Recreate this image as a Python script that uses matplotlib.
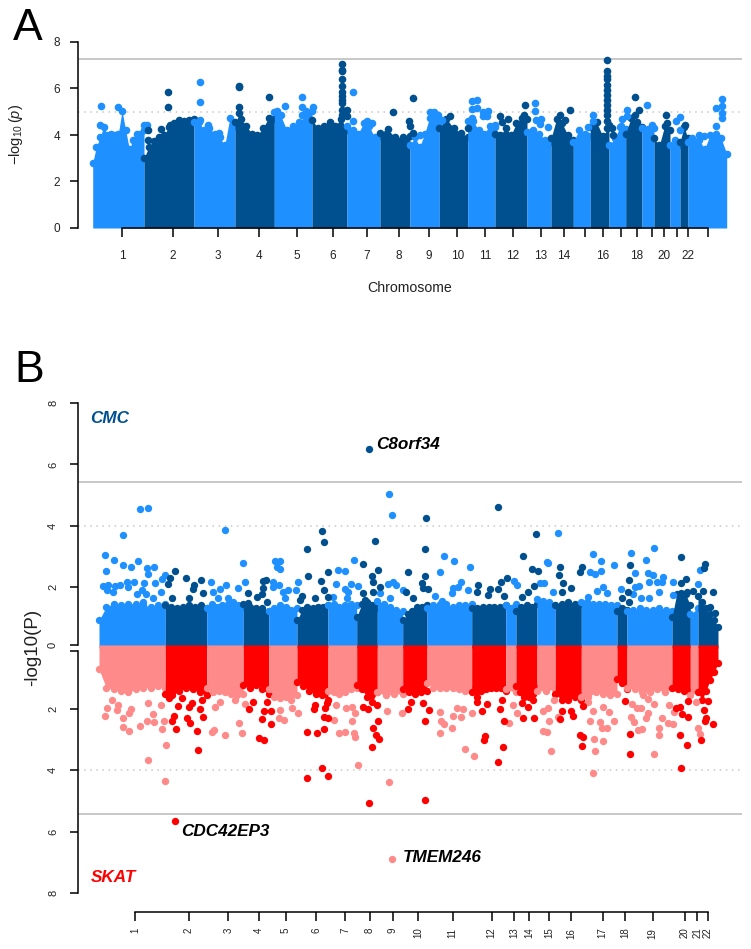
import numpy as np
import matplotlib
matplotlib.use("Agg")
import matplotlib.pyplot as plt

plt.rcParams['font.family'] = ['Liberation Sans', 'DejaVu Sans']
plt.rcParams['mathtext.fontset'] = 'custom'
plt.rcParams['mathtext.rm'] = 'Liberation Sans'
plt.rcParams['mathtext.it'] = 'Liberation Sans:italic'

LIGHT = '#1e90ff'
DARK = '#00508f'
PINK = '#ff8a8a'
RED = '#ff0000'
GREY = '#c8c8c8'

# panel A: genome position runs along the x axis
a_edges = [92.7, 144, 194, 235, 274.3, 312, 347, 380, 410, 439.3, 467.7, 495, 527,
           551, 573.3, 590.3, 609, 625.7, 642, 654, 670, 680, 688, 726.7]
a_ticks = [122, 172.7, 218, 258.5, 296.5, 333, 367, 399, 428.7, 457.3, 485, 513, 540.7,
           563.7, 585, 603, 621, 637, 651.5, 664, 676.5, 687.5, 707.5]
a_tick_labels = ['1', '2', '3', '4', '5', '6', '7', '8', '9', '10', '11', '12', '13',
                 '14', '', '16', '', '18', '', '20', '', '22', '']
a_tops = [
    [2.8, 3.5, 3.9, 4.35, 4.0, 4.05, 4.0, 4.05, 5.05, 4.2, 3.4, 3.8, 4.05, 4.05, 4.2],
    [3.0, 3.5, 3.75, 3.9, 4.0, 4.35, 4.5, 4.65, 4.6, 4.65, 4.7],
    [4.55, 4.55, 4.2, 4.3, 4.05, 3.9, 3.55, 4.75, 4.4],
    [4.55, 4.7, 4.4, 4.05, 4.0, 4.3, 4.75, 4.7],
    [5.0, 4.85, 4.2, 4.4, 4.55, 4.85, 5.05],
    [4.65, 4.3, 4.4, 4.55, 4.4, 4.7, 4.2],
    [4.4, 4.2, 4.05, 4.5, 4.4, 3.9, 3.95],
    [4.1, 4.25, 3.9, 3.9, 3.95],
    [3.55, 3.9, 3.5, 4.05, 4.75, 4.75, 4.55],
    [4.3, 4.7, 4.3, 4.1, 3.9],
    [4.6, 4.6, 4.2, 4.05, 4.4, 4.35],
    [4.05, 4.0, 4.3, 4.0, 4.5, 4.75, 4.7],
    [4.15, 4.2, 4.05, 3.8, 3.7],
    [3.85, 4.7, 4.5, 4.0, 3.8],
    [3.7, 4.2, 4.05, 3.95],
    [4.35, 4.55, 3.95, 4.35],
    [3.55, 3.85, 4.35, 4.25],
    [4.05, 4.75, 4.55, 4.35],
    [4.3, 4.25, 4.3],
    [3.85, 3.55, 4.4, 4.2],
    [3.55, 3.8, 3.55],
    [3.7, 4.35, 3.85],
    [3.7, 3.65, 3.8, 3.4, 4.0, 4.05, 3.85, 3.2],
]
a_light_x = [101, 117.7, 100, 144, 146.7, 200.3, 200.3, 208.3, 219, 200, 285, 302.3, 301.7,
             301.7, 312.7, 277, 306, 352.7, 353.3, 366.7, 371.7, 430.3, 434.3, 438.3, 441.7,
             420, 471.7, 476.7, 471.7, 476.7, 483.3, 488.3, 483.3, 487.3, 472.3, 495, 535.3,
             535.3, 536, 540.7, 540, 547.7, 593.3, 588.3, 592.7, 627.3, 621.7, 626.7, 620.7,
             646.7, 652.3, 676, 680.3, 680, 722, 722, 716, 722, 722, 715.7, 691.7, 699.3, 704]
a_light_y = [5.25, 5.2, 4.45, 4.43, 4.43, 6.27, 5.43, 4.45, 4.1, 4.65, 5.23, 5.65, 5.2,
             4.87, 5.19, 5.05, 5.05, 5.83, 4.6, 4.6, 4.5, 4.97, 5.0, 4.85, 4.65,
             4.0, 5.47, 5.5, 5.13, 5.16, 5.0, 5.03, 4.8, 4.8, 4.73, 4.45, 5.38,
             5.03, 4.65, 4.7, 4.49, 4.34, 4.87, 4.33, 4.59, 5.06, 4.69, 4.8, 4.4,
             5.3, 4.41, 4.6, 4.77, 4.23, 5.55, 5.26, 5.16, 4.95, 4.73, 4.37, 3.85, 4.0, 3.95]
a_dark_x = [168, 168, 161.3, 148.3, 148.3, 170, 239.3, 239.3, 239.3, 239.3, 269.3,
            342.3, 342.3, 342.3, 342.3, 342.3, 342.3, 342.3, 342.3, 342.3, 342.3, 342.3, 346.7, 346.7,
            392.7, 412.7, 409, 410, 412.7, 450, 468.3, 499.7, 501.7, 507.7, 525.3, 524, 570, 560, 565,
            607.3, 607.3, 607.3, 607.3, 607.3, 607.3, 607.3, 607.3, 607.3, 607.3, 607.3, 607.3, 607.3,
            609.3, 611.7, 613.3, 634.7, 638.7, 635, 666.3, 666.7, 685]
a_dark_y = [5.86, 5.19, 4.27, 4.23, 3.8, 4.45, 6.1, 6.05, 5.19, 4.95, 5.65,
            7.04, 6.8, 6.75, 6.4, 6.1, 5.83, 5.66, 5.5, 5.37, 5.09, 4.87, 5.09, 4.8,
            4.97, 5.6, 4.6, 4.37, 4.1, 4.83, 4.3, 4.8, 4.55, 4.7, 5.29, 4.87, 5.06, 4.87, 4.66,
            7.24, 6.74, 6.55, 6.4, 6.15, 5.95, 5.73, 5.52, 5.3, 5.09, 4.87, 4.6, 4.3,
            4.45, 4.3, 4.0, 5.65, 5.07, 4.87, 4.87, 4.5, 4.41]

# panel B: same style, CMC on top and SKAT mirrored underneath
b_edges = [99, 165.3, 206.7, 243.3, 268.7, 297, 328, 356.7, 377.3, 402.7, 427, 471.7,
           505.7, 516, 537, 555.3, 581.3, 617, 627, 672, 690.3, 698, 718]
b_ticks = [135, 189, 228.3, 259.3, 286, 316, 345.3, 369.7, 393, 418, 452.7, 491.7,
           514, 529.3, 549, 571.3, 602.7, 625.3, 652.7, 684.7, 697.3, 707.7]
b_tick_labels = ['1', '2', '3', '4', '5', '6', '7', '8', '9', '10', '11', '12',
                 '13', '14', '15', '16', '17', '18', '19', '20', '21', '22']
b_cmc_tops = [
    [0.9, 1.35, 1.45, 1.4, 1.45, 1.45, 1.4, 1.35, 1.4, 1.45],
    [1.4, 1.35, 1.3, 1.35, 1.4, 1.35, 1.4, 1.3],
    [1.3, 1.45, 1.35, 1.4, 1.45, 1.5, 1.4, 1.35],
    [1.45, 1.35, 1.3, 1.3, 1.2],
    [1.2, 1.3, 1.4, 1.35, 1.25, 1.3],
    [0.9, 1.25, 1.35, 1.3, 1.35, 1.35, 1.4],
    [1.4, 1.45, 1.35, 1.4, 1.45, 1.4],
    [1.0, 1.45, 1.5, 1.4, 1.3],
    [1.55, 1.45, 1.35, 1.25, 1.2],
    [0.9, 1.1, 1.2, 1.35, 1.35, 1.4],
    [1.3, 1.4, 1.45, 1.45, 1.35, 1.4, 1.4, 1.45],
    [1.3, 1.3, 1.35, 1.35, 1.35, 1.35, 1.4],
    [1.4, 1.45],
    [1.2, 1.35, 1.4, 1.35, 1.45],
    [1.6, 1.55, 1.5, 1.4],
    [1.4, 1.45, 1.5, 1.45, 1.45],
    [1.5, 1.5, 1.45, 1.45, 1.45, 1.4, 1.4],
    [1.2, 1.3, 1.25],
    [1.2, 1.25, 1.3, 1.25, 1.25, 1.3, 1.25, 1.2],
    [1.0, 1.75, 1.8, 1.75, 1.4],
    [1.1, 1.3],
    [1.7, 1.5, 1.3, 1.1, 0.9, 0.7],
]
b_skat_tops = [
    [0.7, 1.3, 1.35, 1.4, 1.45, 1.35, 1.3, 1.3, 1.25, 1.3],
    [1.5, 1.55, 1.4, 1.3, 1.35, 1.45, 1.55],
    [1.3, 1.45, 1.4, 1.45, 1.5, 1.55, 1.5],
    [1.2, 1.3, 1.2, 1.35, 1.5],
    [1.35, 1.6, 1.65, 1.6, 1.7, 1.55],
    [1.1, 1.25, 1.4, 1.5, 1.55, 1.7],
    [1.4, 1.45, 1.5, 1.45, 1.35, 1.3],
    [1.2, 1.35, 1.6, 1.75, 1.45],
    [1.45, 1.55, 1.5, 1.5],
    [1.35, 1.45, 1.5, 1.45, 1.4],
    [1.15, 1.3, 1.3, 1.3, 1.3, 1.35, 1.4, 1.35],
    [1.45, 1.6, 1.4, 1.35, 1.3, 1.3, 1.3, 1.4],
    [1.35, 1.45],
    [1.25, 1.45, 1.6, 1.6, 1.5, 1.3],
    [1.4, 1.4, 1.35],
    [1.5, 1.7, 1.7, 1.6, 1.7],
    [1.6, 1.6, 1.45, 1.5, 1.55, 1.5],
    [1.0, 1.15, 1.35],
    [1.3, 1.35, 1.45, 1.45, 1.35, 1.45, 1.3],
    [1.3, 1.35, 1.4, 1.45],
    [1.55, 1.4],
    [1.45, 1.7, 1.4, 1.05, 0.8, 0.5],
]
b_cmc_light_x = [104.7, 105.7, 114.3, 123.3, 123, 131, 137.7, 140, 148, 146.7, 154, 148.3, 144.3, 155.3,
                 162.3, 165.3, 102.7, 108.3, 115, 120, 126.7, 134, 107.3, 112.7, 128.3, 137.3, 141.7,
                 146, 152.7, 161.3, 143.3, 210.7, 225.3, 225.7, 220, 213.3, 243.3, 245.3, 237.7, 218.3,
                 228.3, 220.7, 275, 280, 276.7, 280, 272.7, 279, 273.3, 297.7, 288.3, 282.7, 295.7, 285,
                 338, 345, 354, 335.7, 351, 358.3, 345, 348.3, 333.3, 346.7, 389, 392.3, 392.7, 388.3,
                 396, 403.3, 390, 380, 443.7, 453.7, 470, 440, 460.7, 453.3, 468.3, 435, 442, 458.3,
                 451.7, 514, 516.7, 558.3, 546.7, 548.3, 540, 544.3, 552.7, 593, 601, 614.3, 590, 595,
                 601.3, 602.7, 596.7, 606.7, 588.3, 630.7, 646, 653.7, 634.7, 648.3, 653.3, 663.3, 649.3,
                 656.7, 661.7, 620.7, 639.3, 635, 658.7, 633.3, 673.3, 672.7, 640.7, 649.3, 697.7, 700]
b_cmc_light_y = [3.04, 2.51, 2.88, 3.7, 2.72, 2.65, 2.86, 4.55, 4.58, 2.6, 2.65, 2.42, 2.14, 2.14,
                 2.27, 2.39, 2.02, 2.06, 2.04, 2.06, 2.17, 2.15, 1.9, 1.83, 2.0, 1.77, 1.88,
                 1.77, 1.62, 1.83, 1.49, 2.17, 3.86, 2.07, 1.92, 1.84, 2.77, 2.17, 1.95, 1.62,
                 1.62, 1.35, 2.85, 2.85, 2.66, 2.58, 2.17, 2.06, 1.98, 2.17, 1.9, 1.82, 1.9, 1.62,
                 2.56, 2.53, 2.87, 2.08, 2.09, 2.03, 1.93, 1.84, 1.68, 1.62, 5.03, 4.34, 2.17, 2.08,
                 2.06, 1.89, 1.62, 1.79, 3.0, 2.85, 2.64, 2.48, 2.16, 1.95, 1.9, 1.7, 1.55, 2.0,
                 1.79, 2.19, 2.06, 3.75, 2.82, 2.79, 2.12, 2.12, 1.84, 3.06, 2.86, 2.7, 2.49, 2.43,
                 2.51, 2.0, 1.85, 1.79, 1.68, 3.12, 2.89, 3.27, 2.44, 2.44, 2.4, 2.33, 2.17,
                 2.16, 2.16, 1.93, 2.04, 1.98, 1.83, 1.76, 2.17, 1.72, 1.62, 1.62, 2.1, 2.56]
b_cmc_dark_x = [175, 170, 168.3, 186.3, 194, 193.3, 201, 202.7, 172.3, 189.3, 248.3, 263.3, 265.7, 263.3,
                261.7, 256.7, 248.3, 266.7, 306.7, 322, 324, 307.7, 328, 321, 324.3, 301.7, 300, 315,
                328.3, 369.3, 363, 375.3, 371.7, 378, 372.7, 380, 372.7, 362.7, 365, 425.7, 425, 408.3,
                424.7, 421.7, 423.3, 428.3, 406, 413.3, 498.3, 477.7, 477.3, 507, 500.7, 490, 498.3,
                504.3, 488.3, 536.3, 523.3, 532, 538.3, 534, 528.3, 521.7, 560.3, 559.3, 562.7, 571,
                562.3, 580, 582.3, 629.7, 628.7, 628.3, 621.7, 629.3, 681.3, 685.7, 681, 692.7, 686.7,
                705, 704.3, 703.3, 713.3, 710, 715]
b_cmc_dark_y = [2.52, 2.29, 2.09, 2.28, 2.06, 1.93, 2.21, 1.8, 1.62, 1.62, 1.81, 2.19, 2.21, 1.95,
                1.76, 1.68, 1.46, 1.52, 3.25, 3.81, 3.48, 2.37, 2.5, 2.19, 1.88, 1.71, 1.57, 1.62,
                1.68, 6.51, 2.73, 3.49, 2.37, 2.55, 2.16, 2.0, 1.84, 1.79, 1.57, 4.24, 3.24, 2.48,
                2.37, 2.12, 1.95, 1.92, 1.84, 1.62, 4.62, 2.05, 1.82, 2.28, 2.16, 1.92, 1.92,
                1.71, 1.73, 3.72, 3.0, 2.58, 2.52, 2.04, 1.82, 1.68, 2.64, 2.38, 2.13, 1.97,
                1.82, 2.5, 2.64, 2.7, 2.22, 1.84, 1.62, 1.52, 2.96, 2.24, 2.14, 1.85, 1.84,
                2.73, 2.63, 1.86, 1.82, 1.35, 1.13]
b_skat_light_x = [104.7, 107.3, 117.3, 131.3, 123.3, 129, 123.3, 129.3, 140, 146.7, 154, 152.7, 163.7, 162.3,
                  165.7, 147.7, 165.3, 161.3, 148.3, 118.3, 111.7, 212, 214, 225.3, 239, 242.3, 215, 220,
                  235, 245, 279.3, 283.7, 298.3, 291.7, 280, 358.3, 339, 345.3, 354, 355, 334.3, 351.7,
                  355, 345.7, 335.7, 351.7, 389, 387, 402, 392.3, 440, 452, 441, 444, 440, 453.3, 460.7,
                  457.3, 463.3, 472, 465.3, 474, 508.7, 517, 512.7, 543, 547.3, 551, 548.7, 543.3, 548.3,
                  554.3, 558.3, 593, 595, 593.7, 603.3, 590, 592.7, 600, 602.3, 607.3, 614.3, 603.3, 608.7,
                  588.3, 653.7, 659, 659, 641.7, 637.7, 634, 630.7, 646, 648.3, 636.7, 640.7, 631.7, 654,
                  661.7, 667.7, 673.3, 669.3, 674, 643.3, 647.7, 698, 699.7, 695.7]
b_skat_light_y = [2.22, 1.97, 2.03, 2.0, 2.29, 2.14, 2.57, 2.7, 2.54, 2.38, 2.41, 2.17, 2.38, 2.66,
                  3.17, 3.66, 4.34, 1.85, 1.8, 1.86, 1.7, 2.76, 2.68, 2.86, 2.45, 2.79, 1.92, 1.75,
                  1.7, 1.83, 2.29, 2.36, 2.12, 1.97, 2.03, 3.82, 2.77, 2.73, 2.79, 2.9, 2.34, 2.39,
                  2.14, 1.97, 1.86, 1.92, 4.38, 2.06, 2.12, 6.9, 2.77, 2.6, 2.38, 2.48, 2.08, 2.22, 2.27,
                  1.95, 1.98, 2.12, 3.31, 3.54, 2.44, 2.12, 1.86, 2.72, 2.74, 3.38, 2.38, 2.07, 1.97,
                  1.71, 2.27, 4.1, 3.37, 2.99, 3.04, 2.38, 2.07, 2.41, 2.63, 2.61, 2.38, 1.94, 2.08,
                  1.76, 3.48, 2.85, 2.62, 2.64, 2.68, 2.43, 2.25, 2.3, 2.13, 1.97, 1.97, 1.83, 1.84,
                  2.3, 2.44, 2.5, 1.86, 2.08, 1.54, 1.67, 2.6, 2.81, 1.76]
b_skat_red_x = [175, 198.3, 197.3, 176, 171.7, 174, 186.7, 190.3, 202.7, 200.3, 189.3, 191.7, 178.3, 181.7,
                201.7, 169, 249, 252.7, 261.7, 264.3, 270.7, 270.7, 259, 264, 266.7, 306.7, 322, 328,
                307.3, 316.7, 324, 324, 328.3, 314, 315, 325, 326.7, 369.3, 371.7, 372.7, 375.7, 379,
                378.3, 367.7, 363.3, 376.7, 425.3, 425, 428.7, 408.3, 410.7, 423.3, 498.3, 503, 484.7,
                484, 482.3, 487.3, 476.7, 500.3, 504.3, 502.3, 523, 534.3, 528.3, 521.7, 533.3, 560.3,
                572.7, 561.7, 570.7, 582.3, 580, 583.3, 583.3, 629.7, 630, 624.7, 681, 680, 687.3,
                688.3, 681.7, 675.7, 680, 688.3, 701, 713.3, 705, 705.7, 703.7, 708.3]
b_skat_red_y = [5.67, 3.35, 2.7, 2.64, 2.39, 2.21, 2.28, 2.44, 2.25, 1.98, 1.92, 1.79, 1.89, 1.65,
                1.7, 1.62, 2.0, 1.78, 2.31, 2.07, 2.05, 2.47, 2.95, 3.01, 1.78, 4.25, 3.93, 4.19,
                2.74, 2.79, 2.66, 2.24, 2.28, 1.99, 1.86, 1.97, 1.79, 5.07, 3.23, 2.63, 2.85, 2.99,
                2.38, 2.01, 1.94, 1.86, 4.96, 2.38, 2.02, 2.0, 1.76, 1.81, 3.73, 3.24, 2.87,
                3.02, 2.05, 1.83, 1.76, 1.98, 2.4, 1.7, 2.3, 2.28, 1.92, 1.81, 1.7, 2.33,
                2.21, 2.05, 2.05, 3.22, 2.86, 2.92, 1.9, 3.48, 2.82, 1.72, 3.92, 2.86, 3.17,
                2.26, 2.16, 1.97, 1.94, 1.72, 3.01, 2.5, 2.38, 2.3, 2.03, 1.72]

W, H = 751, 949
X0, X1 = 77.5, 742


def px_axes(fig, top, bottom):
    return fig.add_axes([X0 / W, 1 - bottom / H, (X1 - X0) / W, (bottom - top) / H])


def dibujar_cromosomas(ax, edges, tops, colors, size, base=0):
    for i, top in enumerate(tops):
        color = colors[i % 2]
        x = np.linspace(edges[i], edges[i + 1], len(top))
        ax.fill_between(x, base, top, color=color, lw=0, clip_on=False, zorder=2)
        ax.scatter(x, top, s=size, color=color, lw=0, clip_on=False, zorder=2)


def estilo_eje(ax):
    for lado in ['top', 'right']:
        ax.spines[lado].set_visible(False)
    ax.patch.set_visible(False)
    ax.set_xlim(X0, X1)
    ax.set_ylim(0, 8)
    ax.spines['left'].set_linewidth(1.1)


fig = plt.figure(figsize=(W / 100, H / 100), dpi=100)

# panel A
ax = px_axes(fig, 42, 228)
estilo_eje(ax)
dibujar_cromosomas(ax, a_edges, a_tops, [LIGHT, DARK], 30)
ax.scatter(a_light_x, a_light_y, s=30, color=LIGHT, lw=0, zorder=3, clip_on=False)
ax.scatter(a_dark_x, a_dark_y, s=30, color=DARK, lw=0, zorder=3, clip_on=False)
ax.axhline(7.25, color=GREY, lw=1.4, zorder=1)
ax.axhline(5, color=GREY, lw=1.1, ls=(0, (1, 3)), zorder=1)
ax.spines['bottom'].set_bounds(a_ticks[0], a_ticks[-1])
ax.spines['bottom'].set_linewidth(1.1)
ax.spines['bottom'].set_zorder(4)
ax.set_xticks(a_ticks)
ax.set_xticklabels(a_tick_labels, fontsize=8.5, color='#222222')
ax.tick_params(axis='x', length=6.5, width=1.1, pad=9.5)
ax.set_yticks([0, 2, 4, 6, 8])
ax.tick_params(axis='y', length=6, width=1.1, pad=6.5, labelsize=8.5, labelcolor='#222222')

fig.text(410 / W, 1 - 288 / H, 'Chromosome', fontsize=10.2, ha='center', va='center', color='#222222')
fig.text(16 / W, 1 - 135 / H, r'$-\log_{10}(p)$', fontsize=10.5, rotation=90, ha='center', va='center', color='#222222')
fig.text(13 / W, 1 - 40 / H, 'A', fontsize=32, ha='left', va='baseline')
fig.text(14 / W, 1 - 382 / H, 'B', fontsize=32, ha='left', va='baseline')

# panel B, CMC arriba
ax_cmc = px_axes(fig, 403.3, 648)
estilo_eje(ax_cmc)
dibujar_cromosomas(ax_cmc, b_edges, b_cmc_tops, [LIGHT, DARK], 28)
ax_cmc.scatter(b_cmc_light_x, b_cmc_light_y, s=28, color=LIGHT, lw=0, zorder=3)
ax_cmc.scatter(b_cmc_dark_x, b_cmc_dark_y, s=28, color=DARK, lw=0, zorder=3)
ax_cmc.axhline(5.43, color=GREY, lw=1.4, zorder=1)
ax_cmc.axhline(4, color=GREY, lw=1.1, ls=(0, (1, 3)), zorder=1)
ax_cmc.spines['bottom'].set_visible(False)
ax_cmc.spines['left'].set_bounds(0.1, 8)
ax_cmc.set_xticks([])
ax_cmc.set_yticks([0.1, 2, 4, 6, 8])
ax_cmc.set_yticklabels(['0', '2', '4', '6', '8'], rotation=90, va='center')
ax_cmc.tick_params(axis='y', length=6, width=1.1, pad=8, labelsize=8, labelcolor='#222222')

# panel B, SKAT abajo
ax_skat = px_axes(fig, 648, 892.7)
estilo_eje(ax_skat)
ax_skat.invert_yaxis()
dibujar_cromosomas(ax_skat, b_edges, b_skat_tops, [PINK, RED], 28, base=-0.1)
ax_skat.scatter(b_skat_light_x, b_skat_light_y, s=28, color=PINK, lw=0, zorder=3)
ax_skat.scatter(b_skat_red_x, b_skat_red_y, s=28, color=RED, lw=0, zorder=3)
ax_skat.axhline(5.43, color=GREY, lw=1.4, zorder=1)
ax_skat.axhline(4, color=GREY, lw=1.1, ls=(0, (1, 3)), zorder=1)
ax_skat.spines['left'].set_bounds(0.1, 8)
ax_skat.spines['bottom'].set_position(('outward', 13.9))
ax_skat.spines['bottom'].set_bounds(b_ticks[0], b_ticks[-1])
ax_skat.spines['bottom'].set_linewidth(1.1)
ax_skat.set_xticks(b_ticks)
ax_skat.set_xticklabels(b_tick_labels, rotation=90, fontsize=7, color='#222222')
ax_skat.tick_params(axis='x', length=6.3, width=1.1, pad=5)
ax_skat.set_yticks([0.1, 2, 4, 6, 8])
ax_skat.set_yticklabels(['', '2', '4', '6', '8'], rotation=90, va='center')
ax_skat.tick_params(axis='y', length=6, width=1.1, pad=8, labelsize=8, labelcolor='#222222')

fig.text(33 / W, 1 - 647 / H, '-log10(P)', fontsize=13.5, rotation=90, ha='center', va='center', color='#222222')


def etiqueta(x, y, texto, color='black'):
    fig.text(x / W, 1 - y / H, texto, fontsize=12.3, fontweight='bold', fontstyle='italic',
             color=color, ha='left', va='center')


etiqueta(90, 419, 'CMC', DARK)
etiqueta(91, 878, 'SKAT', RED)
etiqueta(376.5, 444, 'C8orf34')
etiqueta(181, 832, 'CDC42EP3')
etiqueta(403, 857, 'TMEM246')

fig.savefig('out.png', dpi=100)
